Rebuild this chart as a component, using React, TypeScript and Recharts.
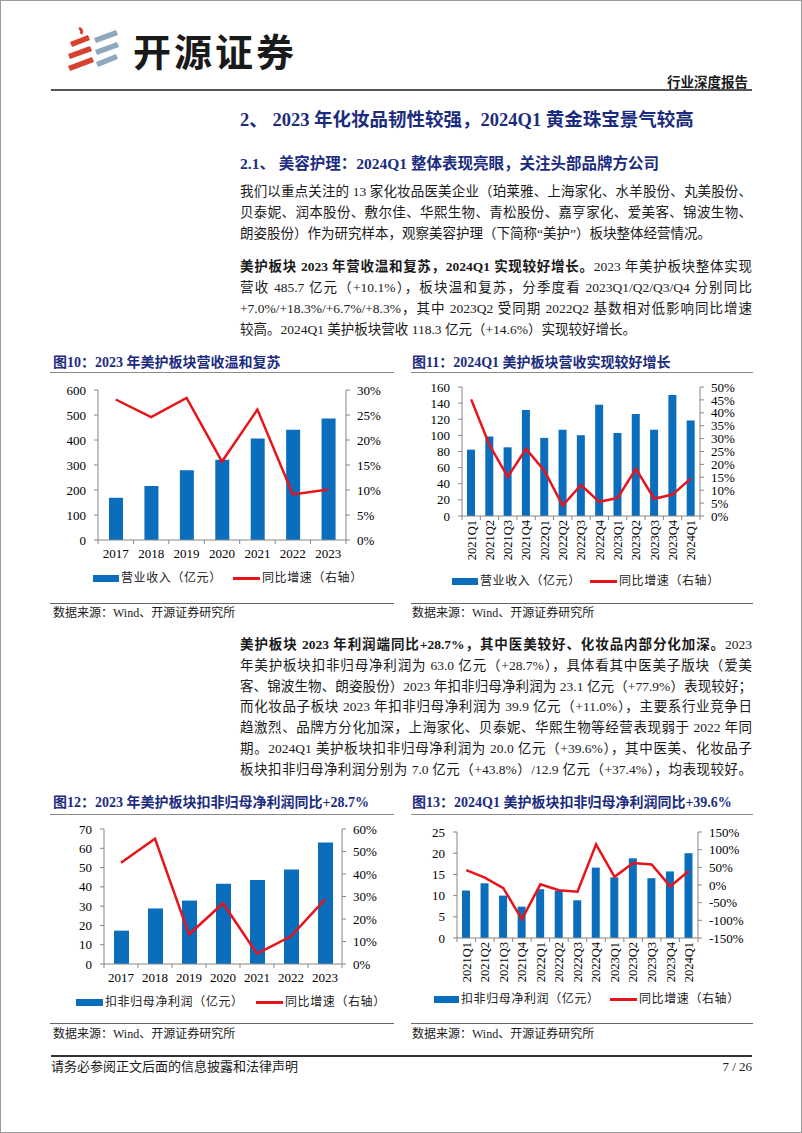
import React from 'react'
import { ComposedChart, Bar, Line, XAxis, YAxis } from 'recharts'

const SERIF = '"Liberation Serif", "Times New Roman", "Noto Sans CJK SC", serif'
const NAVY = '#1B2C7F'
const BLUE = '#0A6EBD'
const RED = '#E8141B'
const AXIS = '#868686'

// annual revenue (亿元) and yoy (%)
const YEARS = ['2017', '2018', '2019', '2020', '2021', '2022', '2023']
const REVENUE_ANNUAL = [169, 216, 279, 321, 406, 441, 485.7]
const REVENUE_ANNUAL_YOY = [28.1, 24.6, 28.4, 15.7, 26.1, 9.1, 10.1]

// quarterly revenue
const QUARTERS = ['2021Q1', '2021Q2', '2021Q3', '2021Q4', '2022Q1', '2022Q2', '2022Q3', '2022Q4', '2023Q1', '2023Q2', '2023Q3', '2023Q4', '2024Q1']
const REVENUE_Q = [82.3, 98.6, 85.2, 131.5, 96.9, 107, 100.2, 138, 103, 126.6, 107, 150, 118.3]
const REVENUE_Q_YOY = [45.2, 27.5, 15.2, 26.0, 17.6, 4.0, 12.0, 5.5, 7.0, 18.3, 6.7, 8.3, 14.6]

// annual net profit
const PROFIT_ANNUAL = [17.3, 28.8, 32.9, 41.6, 43.6, 49.0, 63.0]
const PROFIT_ANNUAL_YOY = [45.0, 55.7, 13.1, 27.0, 4.6, 12.3, 28.7]

// quarterly net profit
const PROFIT_Q = [11.2, 12.9, 10.0, 7.4, 11.5, 11.1, 8.9, 16.6, 14.3, 18.8, 14.1, 15.7, 20.0]
const PROFIT_Q_YOY = [42, 21, -9, -97, 2, -15, -19, 115, 23, 62, 58, -4, 39.6]

const LEFT_TICKS_10 = [0, 100, 200, 300, 400, 500, 600]
const RIGHT_TICKS_10 = [0, 5, 10, 15, 20, 25, 30]
const LEFT_TICKS_11 = [0, 20, 40, 60, 80, 100, 120, 140, 160]
const RIGHT_TICKS_11 = [0, 5, 10, 15, 20, 25, 30, 35, 40, 45, 50]
const LEFT_TICKS_12 = [0, 10, 20, 30, 40, 50, 60, 70]
const RIGHT_TICKS_12 = [0, 10, 20, 30, 40, 50, 60]
const LEFT_TICKS_13 = [0, 5, 10, 15, 20, 25]
const RIGHT_TICKS_13 = [-150, -100, -50, 0, 50, 100, 150]

type Spec = {
  left: number
  top: number
  width: number
  height: number
  margin: { top: number; right: number; bottom: number; left: number }
  leftW: number
  rightW: number
  cats: string[]
  bars: number[]
  yoy: number[]
  leftTicks: number[]
  rightTicks: number[]
  barSize: number
  rotate: boolean
  xHeight: number
}

function makeXTick(band: number, n: number, rotate: boolean) {
  return (props: any) => {
    const { x, y, payload, index } = props
    return (
      <g>
        <line x1={x - band / 2} y1={y} x2={x - band / 2} y2={y + 4} stroke={AXIS} />
        {index === n - 1 && <line x1={x + band / 2} y1={y} x2={x + band / 2} y2={y + 4} stroke={AXIS} />}
        {rotate ? (
          <text x={x} y={y + 4} transform={`rotate(-90 ${x} ${y + 4})`} textAnchor="end" dy="0.35em"
            fontSize={12.5} fontFamily={SERIF} fill="#000">{payload.value}</text>
        ) : (
          <text x={x} y={y + 18} textAnchor="middle" fontSize={13} fontFamily={SERIF} fill="#000">{payload.value}</text>
        )}
      </g>
    )
  }
}

function ComboChart({ s }: { s: Spec }) {
  const data = s.cats.map((c, i) => ({ name: c, bar: s.bars[i], yoy: s.yoy[i] }))
  const plotW = s.width - s.margin.left - s.margin.right - s.leftW - s.rightW
  const band = plotW / s.cats.length
  const tickStyle = { fontSize: 13, fill: '#000', fontFamily: SERIF }
  const lt = s.leftTicks
  const rt = s.rightTicks
  return (
    <div style={{ position: 'absolute', left: s.left, top: s.top }}>
      <ComposedChart width={s.width} height={s.height} data={data} margin={s.margin}>
        <XAxis dataKey="name" interval={0} height={s.xHeight} tickSize={0} tickMargin={0}
          axisLine={{ stroke: AXIS }} tickLine={false} tick={makeXTick(band, s.cats.length, s.rotate)} />
        <YAxis yAxisId="left" width={s.leftW} domain={[lt[0], lt[lt.length - 1]]} ticks={lt} interval={0}
          tick={tickStyle} tickSize={4} tickMargin={8} axisLine={{ stroke: AXIS }} tickLine={{ stroke: AXIS }} />
        <YAxis yAxisId="right" orientation="right" width={s.rightW} domain={[rt[0], rt[rt.length - 1]]} ticks={rt}
          interval={0} tick={tickStyle} tickSize={4} tickMargin={7} tickFormatter={(v) => `${v}%`}
          axisLine={{ stroke: AXIS }} tickLine={{ stroke: AXIS }} />
        <Bar yAxisId="left" dataKey="bar" fill={BLUE} barSize={s.barSize} isAnimationActive={false} />
        <Line yAxisId="right" dataKey="yoy" type="linear" stroke={RED} strokeWidth={2.5} dot={false} isAnimationActive={false} />
      </ComposedChart>
    </div>
  )
}

function LegendRow({ x, y, rectX, lineX, barLabel }: { x: number; y: number; rectX: number; lineX: number; barLabel: string }) {
  const txt: React.CSSProperties = { position: 'absolute', top: y - 9, lineHeight: '18px', fontSize: 12, color: '#222', whiteSpace: 'nowrap', letterSpacing: 0.6 }
  return (
    <>
      <div style={{ position: 'absolute', left: rectX, top: y - 3.5, width: x - rectX - 2, height: 7, background: BLUE }} />
      <div style={{ ...txt, left: x }}>{barLabel}</div>
      <div style={{ position: 'absolute', left: lineX, top: y - 1.5, width: 27, height: 3, background: RED }} />
      <div style={{ ...txt, left: lineX + 29 }}>同比增速（右轴）</div>
    </>
  )
}

function Rule({ x1, x2, y, w = 1, c = '#8a8a8a' }: { x1: number; x2: number; y: number; w?: number; c?: string }) {
  return <div style={{ position: 'absolute', left: x1, top: y - w / 2, width: x2 - x1, height: w, background: c }} />
}

function Txt({ x, y, size, children, bold, color = '#1a1a1a', right }: any) {
  return (
    <div style={{
      position: 'absolute', top: y - size, lineHeight: `${size * 2}px`, fontSize: size,
      fontWeight: bold ? 700 : 400, color, whiteSpace: 'nowrap',
      ...(right ? { right: 802 - x, textAlign: 'right' } : { left: x }),
    }}>{children}</div>
  )
}

function BodyLine({ y, children, last }: { y: number; children: React.ReactNode; last?: boolean }) {
  return (
    <div style={{
      position: 'absolute', left: 240, width: 512, top: y - 10, lineHeight: '20px', fontSize: 13.5,
      color: '#1a1a1a', textAlign: 'justify', textAlignLast: last ? 'left' : 'justify', whiteSpace: 'nowrap',
    }}>{children}</div>
  )
}

const chart10: Spec = {
  left: 40, top: 380, width: 360, height: 190, margin: { top: 10, right: 14, bottom: 0, left: 18 },
  leftW: 40, rightW: 40, cats: YEARS, bars: REVENUE_ANNUAL, yoy: REVENUE_ANNUAL_YOY,
  leftTicks: LEFT_TICKS_10, rightTicks: RIGHT_TICKS_10, barSize: 14, rotate: false, xHeight: 30,
}
const chart11: Spec = {
  left: 405, top: 377, width: 360, height: 189, margin: { top: 10, right: 20, bottom: 0, left: 17 },
  leftW: 40, rightW: 45, cats: QUARTERS, bars: REVENUE_Q, yoy: REVENUE_Q_YOY,
  leftTicks: LEFT_TICKS_11, rightTicks: RIGHT_TICKS_11, barSize: 8, rotate: true, xHeight: 50,
}
const chart12: Spec = {
  left: 40, top: 819, width: 360, height: 175, margin: { top: 10, right: 13, bottom: 0, left: 24 },
  leftW: 40, rightW: 45, cats: YEARS, bars: PROFIT_ANNUAL, yoy: PROFIT_ANNUAL_YOY,
  leftTicks: LEFT_TICKS_12, rightTicks: RIGHT_TICKS_12, barSize: 15, rotate: false, xHeight: 30,
}
const chart13: Spec = {
  left: 405, top: 822, width: 360, height: 166, margin: { top: 10, right: 17, bottom: 0, left: 12 },
  leftW: 40, rightW: 50, cats: QUARTERS, bars: PROFIT_Q, yoy: PROFIT_Q_YOY,
  leftTicks: LEFT_TICKS_13, rightTicks: RIGHT_TICKS_13, barSize: 8, rotate: true, xHeight: 50,
}

function Logo() {
  return (
    <>
      <svg style={{ position: 'absolute', left: 66, top: 26 }} width={56} height={46}>
        <path d="M13 2 q4 2 2 6" stroke="#D9402E" strokeWidth={3} fill="none" />
        <polygon points="4,16 22,9 24,14 6,21" fill="#D9402E" />
        <polygon points="2,28 24,20 26,25 4,33" fill="#D9402E" />
        <polygon points="2,40 26,31 28,36 4,45" fill="#D9402E" />
        <polygon points="28,12 50,4 52,9 30,17" fill="#8EA8BE" />
        <polygon points="29,24 51,16 53,21 31,29" fill="#8EA8BE" />
        <polygon points="30,36 50,28 52,33 32,41" fill="#8EA8BE" />
      </svg>
      <div style={{
        position: 'absolute', left: 133, top: 26, lineHeight: '48px', fontSize: 38, fontWeight: 700,
        fontFamily: '"Noto Sans CJK SC", sans-serif', letterSpacing: 3, color: '#1a1a1a',
      }}>开源证券</div>
    </>
  )
}

export default function App() {
  return (
    <div style={{
      position: 'absolute', left: 0, top: 0, width: 802, height: 1133, background: '#fff',
      boxShadow: 'inset 0 0 0 1px #9a9a9a', fontFamily: SERIF, overflow: 'hidden',
    }}>
      <Logo />
      <Txt x={748} y={82} size={13.5} bold right>行业深度报告</Txt>
      <Rule x1={51} x2={752} y={90} w={2} c="#555" />

      <Txt x={240} y={120} size={18.5} bold color={NAVY}>2、 2023 年化妆品韧性较强，2024Q1 黄金珠宝景气较高</Txt>
      <Txt x={240} y={163} size={15.5} bold color={NAVY}>2.1、 美容护理：2024Q1 整体表现亮眼，关注头部品牌方公司</Txt>

      <BodyLine y={192}>我们以重点关注的 13 家化妆品医美企业（珀莱雅、上海家化、水羊股份、丸美股份、</BodyLine>
      <BodyLine y={213}>贝泰妮、润本股份、敷尔佳、华熙生物、青松股份、嘉亨家化、爱美客、锦波生物、</BodyLine>
      <BodyLine y={234} last>朗姿股份）作为研究样本，观察美容护理（下简称“美护”）板块整体经营情况。</BodyLine>

      <BodyLine y={267}><b>美护板块 2023 年营收温和复苏，2024Q1 实现较好增长。</b>2023 年美护板块整体实现</BodyLine>
      <BodyLine y={288}>营收 485.7 亿元（+10.1%），板块温和复苏，分季度看 2023Q1/Q2/Q3/Q4 分别同比</BodyLine>
      <BodyLine y={309}>+7.0%/+18.3%/+6.7%/+8.3%，其中 2023Q2 受同期 2022Q2 基数相对低影响同比增速</BodyLine>
      <BodyLine y={330} last>较高。2024Q1 美护板块营收 118.3 亿元（+14.6%）实现较好增长。</BodyLine>

      <Txt x={53} y={363} size={14} bold color={NAVY}>图10：2023 年美护板块营收温和复苏</Txt>
      <Txt x={412} y={363} size={14} bold color={NAVY}>图11：2024Q1 美护板块营收实现较好增长</Txt>
      <Rule x1={50} x2={394} y={372} />
      <Rule x1={411} x2={753} y={372} />

      <ComboChart s={chart10} />
      <ComboChart s={chart11} />
      <LegendRow rectX={93} x={121} lineX={233} y={578} barLabel="营业收入（亿元）" />
      <LegendRow rectX={452} x={480} lineX={590} y={581} barLabel="营业收入（亿元）" />

      <Rule x1={50} x2={394} y={603} c="#666" />
      <Rule x1={411} x2={753} y={603} c="#666" />
      <Txt x={53} y={613} size={12}>数据来源：Wind、开源证券研究所</Txt>
      <Txt x={412} y={613} size={12}>数据来源：Wind、开源证券研究所</Txt>

      <BodyLine y={645}><b>美护板块 2023 年利润端同比+28.7%，其中医美较好、化妆品内部分化加深。</b>2023</BodyLine>
      <BodyLine y={666}>年美护板块扣非归母净利润为 63.0 亿元（+28.7%），具体看其中医美子版块（爱美</BodyLine>
      <BodyLine y={687}>客、锦波生物、朗姿股份）2023 年扣非归母净利润为 23.1 亿元（+77.9%）表现较好；</BodyLine>
      <BodyLine y={707}>而化妆品子板块 2023 年扣非归母净利润为 39.9 亿元（+11.0%），主要系行业竞争日</BodyLine>
      <BodyLine y={728}>趋激烈、品牌方分化加深，上海家化、贝泰妮、华熙生物等经营表现弱于 2022 年同</BodyLine>
      <BodyLine y={749}>期。2024Q1 美护板块扣非归母净利润为 20.0 亿元（+39.6%），其中医美、化妆品子</BodyLine>
      <BodyLine y={770}>板块扣非归母净利润分别为 7.0 亿元（+43.8%）/12.9 亿元（+37.4%），均表现较好。</BodyLine>

      <Txt x={53} y={803} size={14} bold color={NAVY}>图12：2023 年美护板块扣非归母净利润同比+28.7%</Txt>
      <Txt x={412} y={803} size={14} bold color={NAVY}>图13：2024Q1 美护板块扣非归母净利润同比+39.6%</Txt>
      <Rule x1={50} x2={394} y={814} />
      <Rule x1={411} x2={753} y={814} />

      <ComboChart s={chart12} />
      <ComboChart s={chart13} />
      <LegendRow rectX={76} x={105} lineX={256} y={1002} barLabel="扣非归母净利润（亿元）" />
      <LegendRow rectX={434} x={461} lineX={610} y={999} barLabel="扣非归母净利润（亿元）" />

      <Rule x1={50} x2={394} y={1023} c="#666" />
      <Rule x1={411} x2={753} y={1023} c="#666" />
      <Txt x={53} y={1034} size={12}>数据来源：Wind、开源证券研究所</Txt>
      <Txt x={412} y={1034} size={12}>数据来源：Wind、开源证券研究所</Txt>

      <Rule x1={51} x2={752} y={1056} w={1.5} c="#333" />
      <Txt x={51} y={1067} size={13}>请务必参阅正文后面的信息披露和法律声明</Txt>
      <Txt x={752} y={1067} size={13} right>7 / 26</Txt>
    </div>
  )
}
